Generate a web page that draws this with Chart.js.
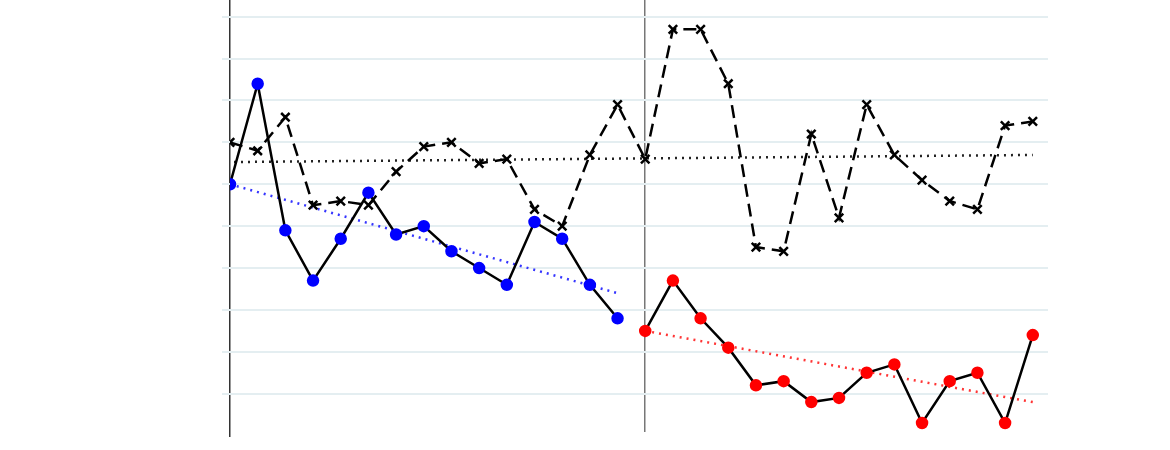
<!DOCTYPE html>
<html>
<head>
    <meta charset="UTF-8">
    <title>Graf</title>
    <script src="https://cdn.jsdelivr.net/npm/chart.js@4.4.0/dist/chart.umd.min.js"></script>
    <style>
        body { margin: 0; background: #fff; }
        .chart { width: 1170px; height: 450px; }
    </style>
</head>
<body>
    <div class="chart">
        <canvas id="myChart" width="1170" height="450"></canvas>
    </div>

    <script>
        // first period (blue points), second period (red points)
        const blueValues = [6.0, 8.4, 4.9, 3.7, 4.7, 5.8, 4.8, 5.0, 4.4, 4.0, 3.6, 5.1, 4.7, 3.6, 2.8];
        const redValues = [2.5, 3.7, 2.8, 2.1, 1.2, 1.3, 0.8, 0.9, 1.5, 1.7, 0.3, 1.3, 1.5, 0.3, 2.4];
        // dashed series with x markers, both periods
        const crossValues = [7.0, 6.8, 7.6, 5.5, 5.6, 5.5, 6.3, 6.9, 7.0, 6.5, 6.6, 5.4, 5.0, 6.7, 7.9,
                             6.6, 9.7, 9.7, 8.4, 4.5, 4.4, 7.2, 5.2, 7.9, 6.7, 6.1, 5.6, 5.4, 7.4, 7.5];
        // trend lines: [start, end]
        const blueTrend = [6.0, 3.4];
        const redTrend = [2.5, 0.8];
        const crossTrend = [6.53, 6.7];
        const splitAt = 15;

        const bluePoints = blueValues.map((v, i) => ({x: i, y: v}));
        const redPoints = redValues.map((v, i) => ({x: i + splitAt, y: v}));
        const crossPoints = crossValues.map((v, i) => ({x: i, y: v}));
        const last = crossValues.length - 1;

        const ctx = document.getElementById('myChart');
        const myChart = new Chart(ctx, {
            type: 'line',
            data: {
                datasets: [{
                    label: 'blue',
                    data: bluePoints,
                    borderColor: '#000',
                    borderWidth: 2.5,
                    pointBackgroundColor: '#0000ff',
                    pointBorderColor: '#0000ff',
                    pointRadius: 5,
                    order: 1
                }, {
                    label: 'red',
                    data: redPoints,
                    borderColor: '#000',
                    borderWidth: 2.5,
                    pointBackgroundColor: '#ff0000',
                    pointBorderColor: '#ff0000',
                    pointRadius: 5,
                    order: 1
                }, {
                    label: 'cross',
                    data: crossPoints,
                    borderColor: '#000',
                    borderWidth: 2.5,
                    borderDash: [13, 7],
                    pointStyle: 'crossRot',
                    pointRadius: 6,
                    pointBorderWidth: 2.5,
                    pointBorderColor: '#000',
                    order: 2
                }, {
                    label: 'blueTrend',
                    data: [{x: 0, y: blueTrend[0]}, {x: splitAt - 1, y: blueTrend[1]}],
                    borderColor: '#3535ff',
                    borderWidth: 2.5,
                    borderDash: [2, 5],
                    pointRadius: 0,
                    order: 3
                }, {
                    label: 'redTrend',
                    data: [{x: splitAt, y: redTrend[0]}, {x: last, y: redTrend[1]}],
                    borderColor: '#ff3535',
                    borderWidth: 2.5,
                    borderDash: [2, 5],
                    pointRadius: 0,
                    order: 3
                }, {
                    label: 'crossTrend',
                    data: [{x: 0, y: crossTrend[0]}, {x: last, y: crossTrend[1]}],
                    borderColor: '#222',
                    borderWidth: 2.5,
                    borderDash: [2, 5],
                    borderDashOffset: 3,
                    pointRadius: 0,
                    order: 3
                }]
            },
            options: {
                responsive: false,
                animation: false,
                layout: {
                    autoPadding: false,
                    padding: {left: 230, right: 122, top: 0, bottom: 18}
                },
                plugins: {
                    legend: {display: false},
                    tooltip: {enabled: false}
                },
                scales: {
                    x: {
                        type: 'linear',
                        min: 0,
                        max: 29.55,
                        afterFit: function (scale) { scale.height = 0; },
                        ticks: {display: false, stepSize: splitAt, includeBounds: false},
                        border: {display: false},
                        grid: {
                            lineWidth: 1.5,
                            tickLength: 5,
                            color: function (c) {
                                if (c.tick && c.tick.value === 0) return '#333';
                                if (c.tick && c.tick.value === splitAt) return '#777';
                                return 'rgba(0,0,0,0)';
                            },
                            tickColor: function (c) {
                                return (c.tick && c.tick.value === 0) ? '#333' : 'rgba(0,0,0,0)';
                            }
                        }
                    },
                    y: {
                        min: 0.086,
                        max: 10.399,
                        afterFit: function (scale) { scale.width = 0; },
                        ticks: {display: false, stepSize: 1, includeBounds: false},
                        border: {display: false},
                        grid: {
                            color: '#e4eef1',
                            lineWidth: 2,
                            tickLength: 8
                        }
                    }
                }
            }
        });
    </script>
</body>
</html>
